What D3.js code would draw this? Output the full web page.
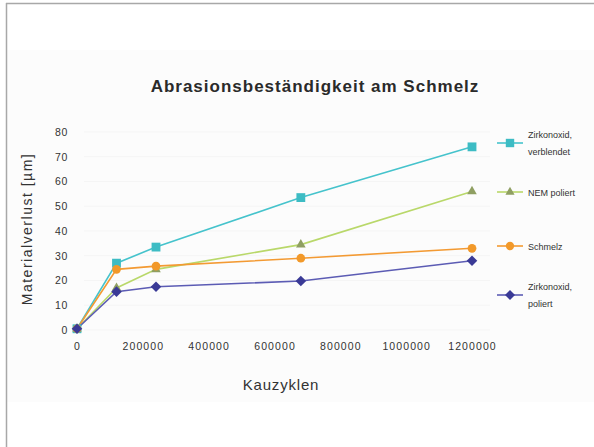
<!DOCTYPE html>
<html>
<head>
<meta charset="utf-8">
<script src="https://cdn.jsdelivr.net/npm/d3@7"></script>
<style>
  html, body { margin: 0; padding: 0; background: #fff; }
  svg { display: block; font-family: "Liberation Sans", Arial, Helvetica, sans-serif; }
</style>
</head>
<body>
<svg id="chart" width="594" height="447"></svg>
<script>
// Kauzyklen (chewing cycles) at which material loss was measured
const cycles = [0, 120000, 240000, 680000, 1200000];

// Material loss in µm per material
const zirkonoxidVerblendet = [0.5, 27, 33.5, 53.5, 74];
const nemPoliert = [0.5, 17, 24.5, 34.5, 56];
const schmelz = [0.5, 24.5, 25.8, 29, 33];
const zirkonoxidPoliert = [0.5, 15.5, 17.5, 19.8, 28];

const seriesNames = [["Zirkonoxid,", "verblendet"], ["NEM poliert"], ["Schmelz"], ["Zirkonoxid,", "poliert"]];
const xTicks = [0, 200000, 400000, 600000, 800000, 1000000, 1200000];
const yTicks = [0, 10, 20, 30, 40, 50, 60, 70, 80];

// square turned by 45° for the diamond marker
const symbolRhomb = {
  draw(context, size) {
    const r = Math.sqrt(size / 2);
    context.moveTo(0, -r);
    context.lineTo(r, 0);
    context.lineTo(0, r);
    context.lineTo(-r, 0);
    context.closePath();
  }
};

const series = [
  { name: seriesNames[0], values: zirkonoxidVerblendet, line: "#45c3cc", fill: "#3dbcc4", symbol: d3.symbolSquare, size: 78 },
  { name: seriesNames[1], values: nemPoliert, line: "#b9d86a", fill: "#8f9f62", symbol: d3.symbolTriangle, size: 40 },
  { name: seriesNames[2], values: schmelz, line: "#f39a33", fill: "#f2992a", symbol: d3.symbolCircle, size: 60 },
  { name: seriesNames[3], values: zirkonoxidPoliert, line: "#5c5cb4", fill: "#3a3a96", symbol: symbolRhomb, size: 56 }
];

const svg = d3.select("#chart");

// frame and faint panel
svg.append("rect").attr("x", 7).attr("y", 50).attr("width", 587).attr("height", 352).attr("fill", "#fcfcfc");
svg.append("line").attr("x1", 6).attr("x2", 594).attr("y1", 3.5).attr("y2", 3.5).attr("stroke", "#a8a8a8").attr("stroke-width", 1.5);
svg.append("line").attr("x1", 6.5).attr("x2", 6.5).attr("y1", 3).attr("y2", 447).attr("stroke", "#a8a8a8").attr("stroke-width", 1.5);

const x = d3.scaleLinear().domain([0, 1200000]).range([77, 472]);
const y = d3.scaleLinear().domain([0, 80]).range([330, 132]);

// gridlines
svg.append("g")
  .selectAll("line")
  .data(yTicks)
  .join("line")
  .attr("x1", 84).attr("x2", 490)
  .attr("y1", d => y(d)).attr("y2", d => y(d))
  .attr("stroke", "#f5f5f5").attr("stroke-width", 1);

// axes (labels only)
const yAxis = d3.axisLeft(y).tickValues(yTicks).tickSize(0).tickPadding(0);
const gy = svg.append("g").attr("transform", "translate(68,0)").call(yAxis);
gy.select(".domain").remove();
gy.selectAll("text").attr("font-size", 10.5).attr("letter-spacing", 0.6).attr("fill", "#333")
  .attr("font-family", "Liberation Sans, Arial, sans-serif");

const xAxis = d3.axisBottom(x).tickValues(xTicks).tickFormat(d3.format("d")).tickSize(0).tickPadding(0);
const gx = svg.append("g").attr("transform", "translate(0,343)").call(xAxis);
gx.select(".domain").remove();
gx.selectAll("text").attr("font-size", 10.5).attr("letter-spacing", 1.1).attr("fill", "#333")
  .attr("font-family", "Liberation Sans, Arial, sans-serif");

// lines and markers
const line = d3.line().x((d, i) => x(cycles[i])).y(d => y(d));
series.forEach(s => {
  svg.append("path")
    .datum(s.values)
    .attr("d", line)
    .attr("fill", "none")
    .attr("stroke", s.line)
    .attr("stroke-width", 1.6);
});
series.forEach(s => {
  svg.append("g")
    .selectAll("path")
    .data(s.values)
    .join("path")
    .attr("transform", (d, i) => `translate(${x(cycles[i])},${y(d)})`)
    .attr("d", d3.symbol().type(s.symbol).size(s.size))
    .attr("fill", s.fill);
});

// title
svg.append("text")
  .attr("x", 315).attr("y", 92)
  .attr("text-anchor", "middle")
  .attr("font-size", 17).attr("letter-spacing", 1).attr("font-weight", "bold").attr("fill", "#2a2a2a")
  .text("Abrasionsbeständigkeit am Schmelz");

// axis titles
svg.append("text")
  .attr("x", 281).attr("y", 390)
  .attr("text-anchor", "middle")
  .attr("font-size", 15).attr("letter-spacing", 0.8).attr("fill", "#333")
  .text("Kauzyklen");

svg.append("text")
  .attr("transform", "translate(32,229) rotate(-90)")
  .attr("text-anchor", "middle")
  .attr("font-size", 14).attr("letter-spacing", 1.5).attr("fill", "#333")
  .text("Materialverlust [µm]");

// legend
const legendY = [143, 192, 246, 295];
const lg = svg.append("g");
series.forEach((s, i) => {
  const cy = legendY[i];
  lg.append("line").attr("x1", 497).attr("x2", 523).attr("y1", cy).attr("y2", cy)
    .attr("stroke", s.line).attr("stroke-width", 1.6);
  lg.append("path").attr("transform", `translate(510,${cy})`)
    .attr("d", d3.symbol().type(s.symbol).size(s.size * 0.9)).attr("fill", s.fill);
  const t = lg.append("text").attr("font-size", 9).attr("fill", "#333");
  const n = s.name.length;
  s.name.forEach((ln, j) => {
    t.append("tspan").attr("x", 528).attr("y", cy + 3.5 + (j - (n - 1) / 2) * 17).text(ln);
  });
});
</script>
</body>
</html>
